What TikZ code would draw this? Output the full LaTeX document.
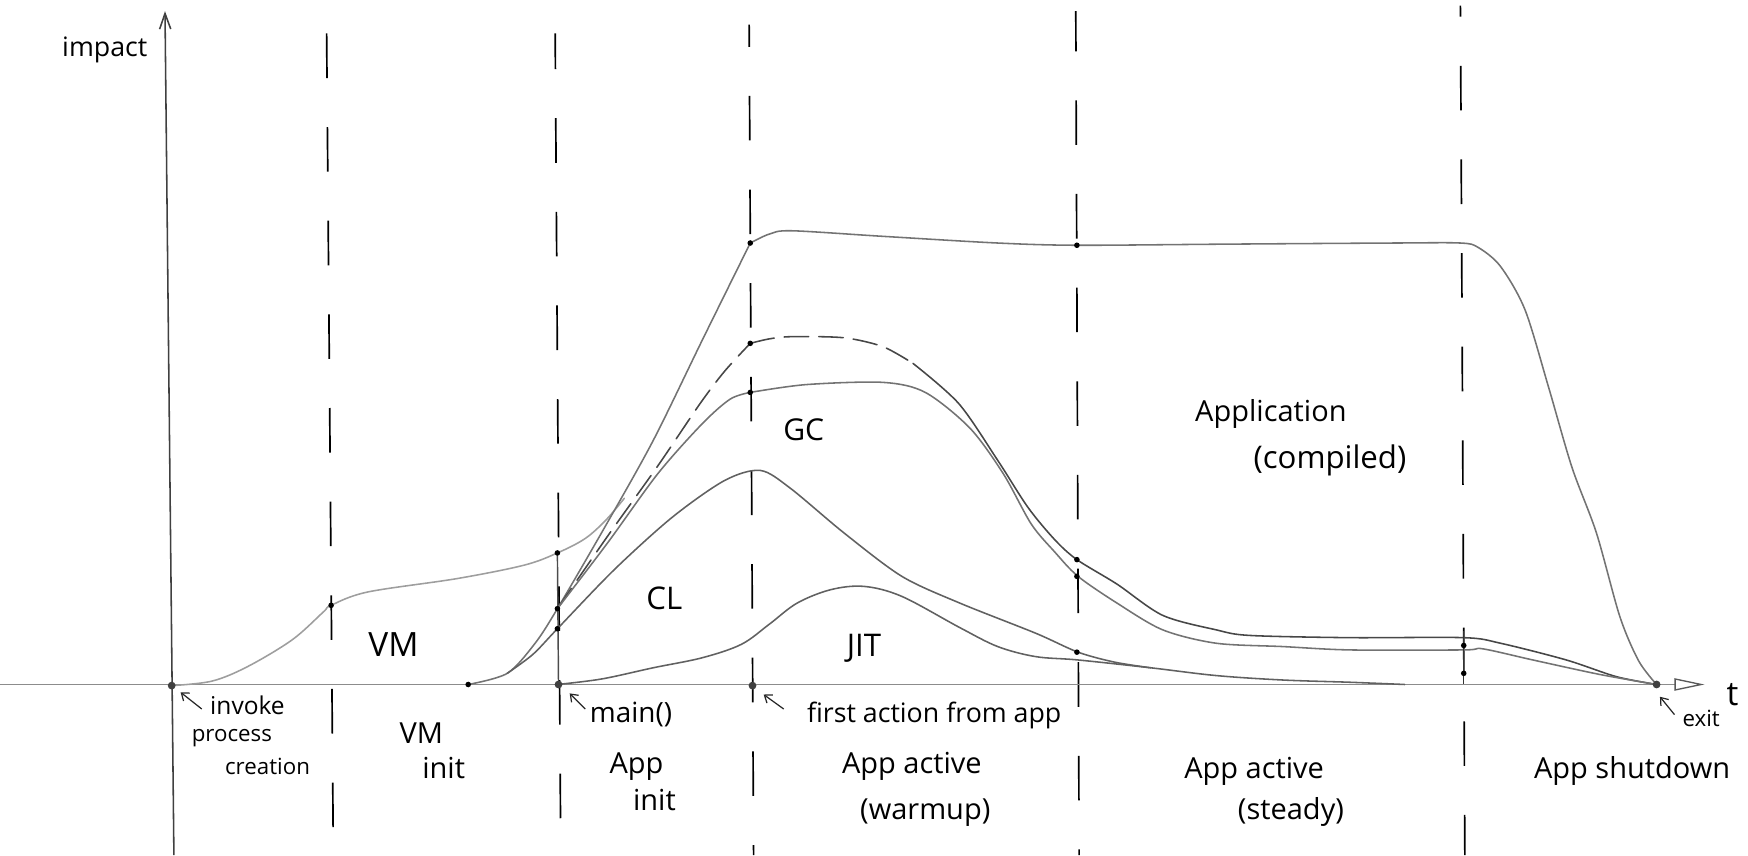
\documentclass[tikz,border=0pt]{standalone}
\usepackage{fontspec}
\setmainfont{Open Sans}
\usetikzlibrary{arrows.meta}
\begin{document}
\begin{tikzpicture}[x=1pt,y=-1pt,
  curve/.style={line width=1.4pt, line cap=round, line join=round, black!55},
  lightcurve/.style={curve, black!38},
  darkcurve/.style={curve, black!72},
  phaseline/.style={line width=1.5pt, black, dash pattern=on 40pt off 44pt},
  dotmark/.style={circle, fill=black, inner sep=0pt, minimum size=5pt},
  axisdot/.style={circle, fill=black!75, inner sep=0pt, minimum size=7pt},
  hand/.style={font=\fontsize{26}{28}\selectfont, anchor=base, inner sep=0pt},
  handsmall/.style={font=\fontsize{20}{22}\selectfont, anchor=base, inner sep=0pt},
  pointer/.style={line width=1.1pt, black!85, -{Straight Barb[length=6pt,width=9pt]}},
]
\useasboundingbox (0,0) rectangle (1568,767);

% ---- phase boundaries (dashed)
\coordinate (b1t) at (293,30);  \coordinate (b1b) at (299,767);
\coordinate (b2t) at (498,30);  \coordinate (b2b) at (503,767);
\coordinate (b3t) at (672,22);  \coordinate (b3b) at (676,767);
\coordinate (b4t) at (965,10);  \coordinate (b4b) at (968,767);
\coordinate (b5t) at (1310,5);  \coordinate (b5b) at (1314,767);
\draw[phaseline] (b1t) -- (b1b);
\draw[phaseline, dash phase=8pt] (b2t) -- (b2b);
\draw[phaseline, dash phase=20pt] (b3t) -- (b3b);
\draw[phaseline, dash phase=4pt] (b4t) -- (b4b);
\draw[phaseline, dash phase=30pt] (b5t) -- (b5b);

% ---- axes
\coordinate (xs) at (0,614);
\coordinate (xe) at (1529,614);
\draw[line width=1.6pt, black!45, -{Triangle[open, length=27pt, width=11pt, black!65, line width=1.2pt]}] (xs) -- (xe);
\coordinate (yb) at (156,767);
\coordinate (yt) at (148,10);
\draw[line width=1.4pt, black!75, -{Straight Barb[length=14pt, width=10pt]}] (yb) -- (yt);
\node[font=\fontsize{24}{26}\selectfont, anchor=base, inner sep=0pt] (impact) at (94,51) {impact};
\node[font=\fontsize{30}{32}\selectfont, anchor=base, inner sep=0pt] (tlabel) at (1554,633) {t};

% ---- VM curve
\draw[lightcurve] plot[smooth, tension=0.55] coordinates {(154,615) (190,611) (222,598) (262,574) (290,549) (297,543) (330,531) (410,519) (470,507) (500,496) (525,483) (544,466) (560,447)};
\draw[line width=1.3pt, black!70] (500,496) -- (501,614);

% ---- Application (compiled)
\draw[curve] plot[smooth, tension=0.5] coordinates {(420,614) (455,604) (480,577) (500,546) (543,472) (586,395) (630,305) (673,218)};
\draw[curve] plot[smooth, tension=0.5] coordinates {(673,218) (690,210) (710,207) (792,212) (895,218) (966,220) (1100,219) (1250,218) (1310,218) (1326,222) (1346,239) (1368,278) (1389,347) (1410,419) (1432,478) (1453,553) (1470,593) (1486,614)};

% ---- dashed upper curve, then solid
\draw[darkcurve, dash pattern=on 22pt off 9pt] plot[smooth, tension=0.5] coordinates {(500,546) (545,481) (590,418) (628,362) (650,333) (673,308)};
\draw[darkcurve, dash pattern=on 22pt off 9pt] plot[smooth, tension=0.5] coordinates {(673,308) (690,304) (710,302) (757,303) (792,311) (819,326)};
\draw[darkcurve] plot[smooth, tension=0.5] coordinates {(819,326) (860,362) (895,413) (922,455) (946,484) (966,502) (1002,524) (1043,552) (1091,565) (1121,570) (1211,572) (1313,572) (1346,577) (1405,592) (1450,607) (1486,614)};

% ---- GC
\draw[curve] plot[smooth, tension=0.5] coordinates {(500,546) (545,487) (590,425) (630,380) (655,358) (673,352)};
\draw[curve] plot[smooth, tension=0.5] coordinates {(673,352) (723,345) (792,343) (830,352) (870,384) (900,425) (925,470) (946,495) (967,517) (1002,541) (1043,565) (1091,577) (1151,580) (1211,583) (1313,583) (1330,582) (1375,592) (1435,605) (1486,614)};

% ---- CL
\draw[curve, black!62] plot[smooth, tension=0.5] coordinates {(455,604) (478,587) (500,564) (551,511) (603,464) (650,431) (682,422) (709,438) (757,478) (809,517) (861,541) (929,568) (967,585) (1000,594) (1032,599)};

% ---- JIT
\draw[curve, black!62] plot[smooth, tension=0.55] coordinates {(500,614) (540,609) (586,599) (630,590) (665,578) (690,560) (715,541) (745,529) (775,526) (809,535) (861,563) (895,580) (929,589) (967,592) (1032,599) (1091,606) (1151,610) (1211,612) (1260,614)};

% ---- short solid marker at shutdown
\draw[line width=1.3pt, black!80] (1313,566) -- (1313,614);

% ---- dots
\node[axisdot] (o) at (154,615) {};
\node[dotmark] (vmd) at (297,543) {};
\node[dotmark] (fan) at (420,614) {};
\node[axisdot] (mainax) at (501,614) {};
\node[dotmark] (vme) at (500,496) {};
\node[dotmark] (m1) at (500,546) {};
\node[dotmark] (m2) at (500,564) {};
\node[axisdot] (fa) at (675,615) {};
\node[dotmark] (f1) at (673,218) {};
\node[dotmark] (f2) at (673,308) {};
\node[dotmark] (f3) at (673,352) {};
\node[dotmark] (s1) at (966,220) {};
\node[dotmark] (s2) at (966,502) {};
\node[dotmark] (s3) at (966,517) {};
\node[dotmark] (s4) at (966,585) {};
\node[dotmark] (d1) at (1313,579) {};
\node[dotmark] (d2) at (1313,604) {};
\node[axisdot] (ex) at (1486,614) {};

% ---- area labels
\node[hand, font=\fontsize{30}{32}\selectfont] (vm) at (353,589) {VM};
\node[hand, font=\fontsize{28}{30}\selectfont] (cl) at (596,547) {CL};
\node[hand, font=\fontsize{27}{29}\selectfont] (gc) at (721,395) {GC};
\node[hand, font=\fontsize{28}{30}\selectfont] (jit) at (775,589) {JIT};
\node[hand] (appl) at (1140,378) {Application};
\node[hand, font=\fontsize{28}{30}\selectfont] (comp) at (1193,420) {(compiled)};

% ---- event labels with pointers
\coordinate (p1a) at (181,636); \coordinate (p1b) at (162,621);
\draw[pointer] (p1a) -- (p1b);
\node[handsmall, font=\fontsize{22}{24}\selectfont] (inv) at (222,641) {invoke};
\node[handsmall] (proc) at (208,665) {process};
\node[handsmall] (crea) at (240,695) {creation};

\coordinate (p2a) at (525,636); \coordinate (p2b) at (511,622);
\draw[pointer] (p2a) -- (p2b);
\node[hand, font=\fontsize{25}{27}\selectfont] (mainl) at (566,648) {main()};

\coordinate (p3a) at (703,636); \coordinate (p3b) at (685,623);
\draw[pointer] (p3a) -- (p3b);
\node[hand, font=\fontsize{24}{26}\selectfont] (first) at (838,648) {first action from app};

\coordinate (p4a) at (1502,641); \coordinate (p4b) at (1489,625);
\draw[pointer] (p4a) -- (p4b);
\node[handsmall] (exitl) at (1526,652) {exit};

% ---- phase labels
\node[hand] (vmi1) at (378,667) {VM};
\node[hand] (vmi2) at (398,698) {init};
\node[hand] (api1) at (571,694) {App};
\node[hand] (api2) at (587,727) {init};
\node[hand] (aw1) at (818,694) {App active};
\node[hand] (aw2) at (830,735) {(warmup)};
\node[hand] (as1) at (1125,698) {App active};
\node[hand] (as2) at (1158,735) {(steady)};
\node[hand] (sd) at (1464,698) {App shutdown};
\end{tikzpicture}
\end{document}
